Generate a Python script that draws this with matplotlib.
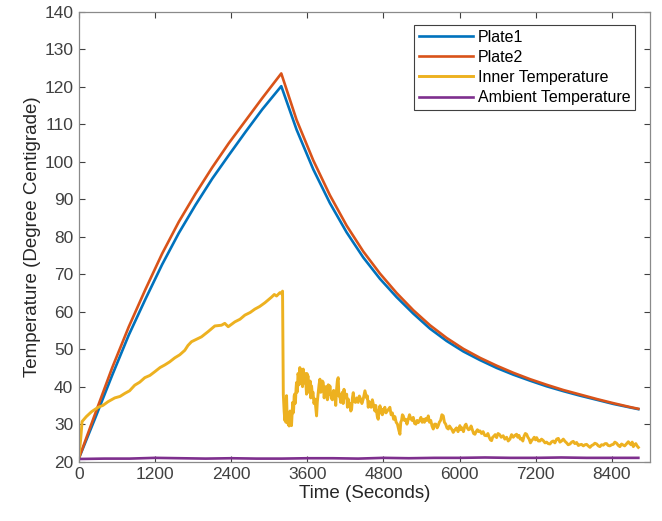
import matplotlib.pyplot as plt

plt.rcParams['font.family'] = ['Liberation Sans', 'DejaVu Sans']

# Plate temperatures (heating, then cooling)
plate_t = [0, 263, 525, 788, 1051, 1313, 1576, 1839, 2102, 2364, 2627, 2890, 3190,
           3431, 3694, 3956, 4219, 4481, 4744, 5007, 5270, 5532, 5795, 6058, 6320,
           6583, 6846, 7109, 7371, 7634, 7897, 8160, 8420, 8700, 8815]
plate1 = [20.8, 31.8, 43.0, 53.8, 63.4, 72.6, 81.0, 88.5, 95.5, 101.8, 108.0, 114.0, 120.2,
          108.6, 98.0, 89.0, 81.2, 74.5, 68.8, 63.9, 59.5, 55.5, 52.2, 49.4, 47.1,
          45.0, 43.2, 41.6, 40.1, 38.8, 37.6, 36.5, 35.4, 34.4, 34.0]
plate2 = [20.8, 33.0, 45.0, 56.0, 66.0, 75.5, 84.0, 91.5, 98.5, 105.0, 111.0, 117.0, 123.6,
          111.2, 100.4, 91.1, 83.0, 76.1, 70.2, 65.0, 60.4, 56.4, 53.0, 50.1, 47.7,
          45.6, 43.7, 42.0, 40.5, 39.1, 37.9, 36.7, 35.6, 34.5, 34.1]

# Inner temperature (noisy sensor)
inner_t = [0, 30, 52, 118, 200, 305, 380, 462, 567, 650, 725, 800, 882, 960, 1040, 1120,
           1198, 1280, 1355, 1430, 1513, 1590, 1670, 1720, 1776, 1850, 1933, 2038, 2143,
           2248, 2300, 2354, 2459, 2540, 2617, 2700, 2774, 2850, 2932, 3037, 3080, 3116,
           3169, 3195, 3210,
           3222, 3235, 3246, 3255, 3263, 3273, 3282, 3290, 3298, 3305, 3313, 3320, 3328,
           3335, 3343, 3351, 3360, 3370, 3378, 3385, 3393, 3400, 3408, 3415, 3423, 3430,
           3438, 3445, 3453, 3460, 3470, 3483, 3491, 3500, 3508, 3515, 3525, 3536, 3545,
           3555, 3568, 3580, 3588, 3595, 3603, 3610, 3620, 3630, 3645, 3655, 3667, 3678,
           3690, 3705, 3720, 3733, 3746, 3758, 3770, 3785, 3799, 3812, 3825, 3838, 3851,
           3865, 3880, 3892, 3904, 3917, 3930, 3943, 3956, 3975, 3995, 4015, 4035, 4048,
           4060, 4073, 4087, 4098, 4110, 4125, 4140, 4152, 4165, 4178, 4192, 4205, 4220,
           4232, 4245, 4258, 4270, 4285, 4298, 4311, 4324, 4340, 4360, 4380, 4402, 4420,
           4440, 4460, 4481, 4508, 4534, 4547, 4560, 4573, 4586, 4605, 4625, 4645, 4665,
           4678, 4690, 4703, 4717, 4730, 4745, 4758, 4770, 4782, 4795, 4808, 4822, 4840,
           4860, 4880, 4901, 4920, 4940, 4960, 4980, 5000, 5020, 5040, 5059, 5072, 5085,
           5098, 5112, 5130, 5150, 5170, 5190, 5210, 5230, 5250, 5269, 5290, 5310, 5330,
           5348, 5370, 5390, 5410, 5427, 5445, 5465, 5485, 5506, 5525, 5545, 5565, 5584,
           5605, 5625, 5645, 5663, 5680, 5700, 5720, 5742, 5760, 5780, 5800, 5821, 5840,
           5860, 5880, 5899, 5925, 5950, 5975, 6004, 6020, 6040, 6060, 6083, 6100, 6120,
           6140, 6162, 6180, 6200, 6220, 6241, 6260, 6280, 6300, 6320, 6345, 6370, 6395,
           6424, 6445, 6465, 6485, 6503, 6520, 6540, 6560, 6582, 6605, 6630, 6655, 6686,
           6712, 6740, 6765, 6792, 6818, 6845, 6870, 6897, 6915, 6935, 6955, 6976, 6995,
           7015, 7035, 7055, 7075, 7095, 7115, 7134, 7155, 7175, 7195, 7213, 7240, 7265,
           7290, 7318, 7345, 7370, 7395, 7423, 7450, 7475, 7500, 7528, 7555, 7580, 7605,
           7633, 7660, 7685, 7710, 7738, 7765, 7790, 7815, 7843, 7870, 7895, 7920, 7948,
           7975, 8000, 8025, 8053, 8080, 8105, 8130, 8158, 8185, 8210, 8235, 8263, 8290,
           8315, 8340, 8368, 8395, 8420, 8445, 8473, 8500, 8525, 8550, 8578, 8600, 8620,
           8640, 8657, 8680, 8700, 8718, 8736, 8755, 8775, 8795, 8815]
inner = [21.0, 26.0, 30.7, 32.0, 33.3, 34.5, 35.0, 36.0, 37.0, 37.4, 38.2, 38.9, 40.4, 41.2,
         42.4, 43.0, 44.0, 45.1, 45.8, 46.6, 47.7, 48.5, 49.7, 51.0, 52.0, 52.6, 53.3, 54.7,
         56.2, 56.4, 56.9, 56.0, 57.3, 58.0, 59.1, 59.8, 60.7, 61.4, 62.4, 63.9, 64.6, 64.2,
         65.1, 64.8, 65.5,
         38.0, 33.5, 31.0, 34.5, 30.5, 37.6, 32.0, 33.1, 30.0, 31.5, 29.5, 31.0, 33.5,
         30.0, 31.2, 29.6, 32.5, 35.8, 33.0, 34.0, 37.5, 38.0, 35.5, 36.5, 39.5, 41.1,
         38.5, 39.0, 43.5, 43.0, 40.5, 45.1, 41.0, 42.4, 44.5, 43.8, 40.0, 44.7, 41.5,
         41.0, 43.5, 40.2, 38.0, 43.5, 41.0, 42.9, 38.5, 39.0, 41.5, 37.0, 40.2, 38.0,
         38.5, 35.5, 36.7, 34.5, 32.2, 36.0, 38.0, 40.5, 42.0, 38.5, 39.0, 41.5, 41.1,
         37.0, 38.5, 40.0, 37.6, 36.5, 40.5, 38.0, 40.2, 37.0, 36.5, 39.0, 37.6, 35.0,
         39.0, 41.5, 42.4, 37.5, 38.0, 35.8, 37.5, 38.5, 35.5, 39.3, 37.5, 37.0, 38.0,
         34.5, 36.7, 35.0, 35.5, 33.5, 34.0, 37.0, 38.4, 36.0, 35.8, 37.0, 35.8, 37.5,
         36.7, 35.5, 36.7, 38.9, 37.0, 37.5, 34.5, 36.0, 35.8, 34.5, 36.5, 34.9, 33.5,
         35.0, 33.5, 32.0, 31.3, 33.5, 34.9, 33.0, 34.0, 32.5, 33.1, 34.0, 34.5, 33.0,
         33.5, 34.0, 34.5, 32.5, 33.0, 31.3, 32.0, 30.5, 30.0, 28.5, 27.3, 30.5, 31.0,
         32.5, 32.2, 31.0, 31.3, 30.0, 31.3, 32.5, 31.5, 31.0, 31.8, 30.2, 30.0, 31.0,
         30.4, 31.0, 31.8, 30.5, 31.3, 30.5, 31.5, 31.0, 32.2, 30.5, 31.0, 29.5, 28.7,
         30.0, 30.0, 29.0, 29.6, 30.5, 31.0, 32.5, 32.2, 30.5, 30.0, 29.0, 28.7, 29.5,
         29.0, 28.5, 27.8, 28.5, 29.0, 28.0, 29.6, 28.5, 29.0, 28.0, 29.6, 30.0, 29.0,
         28.5, 28.7, 29.5, 28.5, 27.5, 27.3, 28.0, 28.5, 28.0, 28.2, 27.5, 28.0, 27.0,
         26.9, 27.5, 26.5, 25.8, 25.6, 26.5, 26.8, 27.2, 26.4, 27.5, 27.2, 26.5, 26.9,
         26.0, 26.5, 25.5, 26.0, 27.2, 26.5, 27.0, 27.3, 26.5, 27.0, 26.0, 26.2, 25.5,
         26.8, 27.5, 27.3, 26.5, 26.0, 25.0, 25.6, 26.0, 26.5, 25.8, 26.4, 25.5, 25.5,
         26.0, 25.6, 25.0, 25.2, 24.8, 24.7, 25.3, 25.5, 25.0, 26.0, 26.2, 25.2, 25.5,
         26.0, 25.4, 25.0, 24.5, 24.7, 25.2, 25.4, 24.8, 25.1, 24.3, 24.5, 24.6, 24.2,
         24.5, 24.6, 24.2, 23.8, 24.3, 24.5, 24.9, 24.7, 24.2, 24.0, 24.5, 24.4, 24.8,
         24.8, 24.3, 24.2, 24.5, 24.6, 25.2, 24.9, 24.3, 24.0, 24.7, 24.4, 24.2, 24.6,
         25.0, 25.3, 24.8, 24.5, 25.2, 24.0, 24.5, 24.8, 24.2, 23.8]

# Ambient temperature
amb_t = [0, 400, 800, 1200, 1600, 2000, 2400, 2800, 3200, 3600, 4000, 4400, 4800, 5200,
         5600, 6000, 6400, 6800, 7200, 7600, 8000, 8400, 8815]
ambient = [20.7, 20.8, 20.8, 21.0, 20.9, 20.8, 20.9, 20.8, 20.8, 20.9, 20.9, 20.8, 21.0,
           20.9, 21.0, 21.0, 21.1, 21.0, 21.0, 21.1, 21.0, 21.0, 21.0]

fig = plt.figure(figsize=(6.62, 5.21), dpi=100)
ax = fig.add_axes([0.119, 0.114, 0.863, 0.863])

lw = 1.9
ax.plot(plate_t, plate1, color='#0072BD', lw=lw, label='Plate1')
ax.plot(plate_t, plate2, color='#D95319', lw=lw, label='Plate2')
ax.plot(inner_t, inner, color='#EDB120', lw=2.1, label='Inner Temperature')
ax.plot(amb_t, ambient, color='#7E2F8E', lw=lw, label='Ambient Temperature')

ax.set_xlim(0, 9000)
ax.set_ylim(20, 140)
ax.set_xticks(range(0, 9600, 1200))
ax.set_yticks(range(20, 150, 10))
ax.tick_params(direction='in', top=True, right=True, length=4, labelsize=12.5,
               colors='#404040', pad=4)
for s in ax.spines.values():
    s.set_color('#8a8a8a')
    s.set_linewidth(0.9)

ax.set_xlabel('Time (Seconds)', fontsize=13.5, color='#262626', labelpad=2)
ax.set_ylabel('Temperature (Degree Centigrade)', fontsize=13.5, color='#262626', labelpad=2)

leg = ax.legend(loc='upper right', bbox_to_anchor=(0.974, 0.971), fontsize=11.5,
                fancybox=False, framealpha=1, edgecolor='#404040', handlelength=3.4,
                labelspacing=0.32, borderpad=0.3, handletextpad=0.3, borderaxespad=0)
leg.get_frame().set_linewidth(0.8)

fig.savefig('out.png', dpi=100)
